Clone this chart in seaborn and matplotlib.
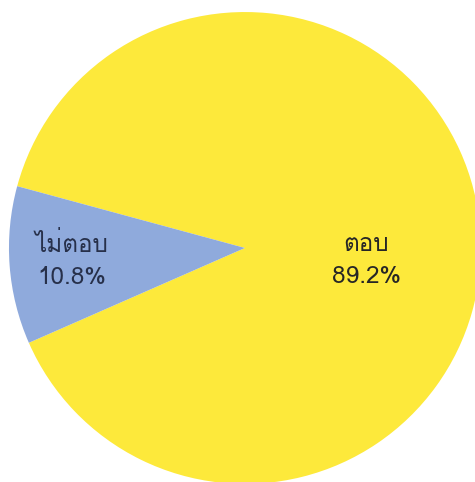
import matplotlib
matplotlib.use("Agg")
import matplotlib.pyplot as plt
from matplotlib import font_manager
from matplotlib.ft2font import FT2Font
import seaborn as sns

# data
labels = ["ตอบ", "ไม่ตอบ"]
shares = [89.2, 10.8]
colors = ["#FDE93B", "#8FAADC"]
text_colors = ["#262626", "#27304a"]


def thai_family():
    # look for any installed font that actually has Thai glyphs
    for f in font_manager.fontManager.ttflist:
        try:
            ft = FT2Font(f.fname)
            if ft.get_char_index(ord("ต")) and ft.get_char_index(ord("ไ")):
                return f.name
        except Exception:
            continue
    return None


sns.set_style("white")
fam = thai_family()
plt.rcParams["font.family"] = ([fam] if fam else []) + ["DejaVu Sans"]

fig = plt.figure(figsize=(4.75, 4.82), dpi=100)
ax = fig.add_axes([0, 0, 1, 1])

wedges, _ = ax.pie(shares, colors=colors, startangle=203.7, counterclock=True,
                   radius=1.0, wedgeprops=dict(linewidth=0))

# label anchors (in data units, pie radius = 1)
label_pos = [(0.515, -0.055), (-0.735, -0.055)]
for lab, val, (x, y), c in zip(labels, shares, label_pos, text_colors):
    ax.text(x, y, f"{lab}\n{val:.1f}%", ha="center", va="center",
            fontsize=17.5, color=c, linespacing=1.5)

ax.set_xlim(-1.038, 0.975)
ax.set_ylim(-0.992, 1.051)
ax.set_aspect("auto")
ax.axis("off")

fig.savefig("out.png", dpi=100, facecolor="white")
